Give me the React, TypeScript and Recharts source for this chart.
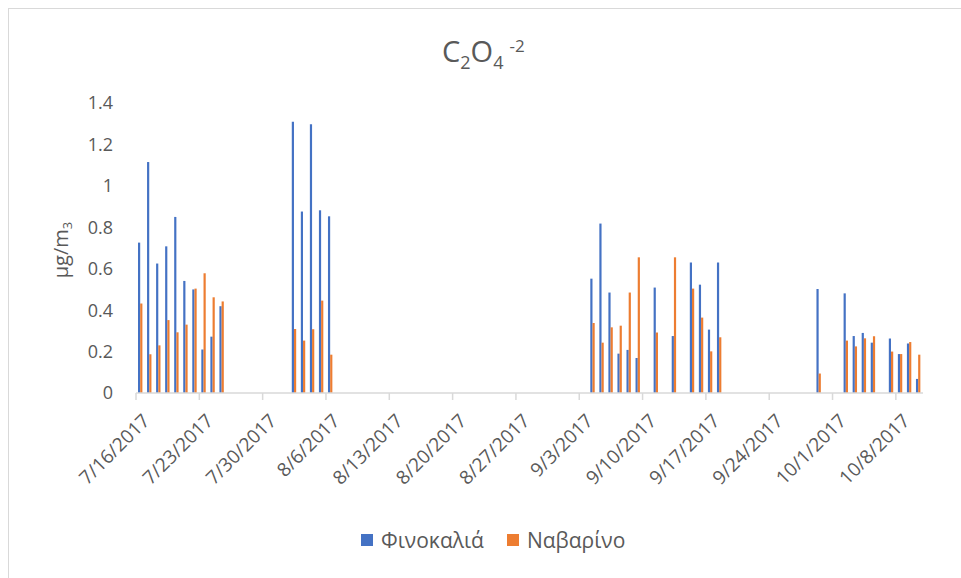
import React from "react";
import { BarChart, Bar, XAxis, YAxis } from "recharts";

// sampling days and daily means (μg/m3) for the two stations
const dates = [
  "7/16/2017", "7/17/2017", "7/18/2017", "7/19/2017", "7/20/2017",
  "7/21/2017", "7/22/2017", "7/23/2017", "7/24/2017", "7/25/2017",
  "8/2/2017", "8/3/2017", "8/4/2017", "8/5/2017", "8/6/2017",
  "9/4/2017", "9/5/2017", "9/6/2017", "9/7/2017", "9/8/2017", "9/9/2017",
  "9/11/2017", "9/13/2017", "9/15/2017", "9/16/2017", "9/17/2017", "9/18/2017",
  "9/29/2017", "10/2/2017", "10/3/2017", "10/4/2017", "10/5/2017",
  "10/7/2017", "10/8/2017", "10/9/2017", "10/10/2017",
];

const finokalia = [
  0.726, 1.115, 0.625, 0.708, 0.85, 0.541, 0.5, 0.21, 0.272, 0.419,
  1.31, 0.876, 1.297, 0.882, 0.853,
  0.552, 0.818, 0.485, 0.19, 0.208, 0.169, 0.509, 0.275, 0.63, 0.523, 0.306, 0.63,
  0.502, 0.481, 0.275, 0.29, 0.243, 0.263, 0.188, 0.239, 0.068,
];

const navarino = [
  0.432, 0.187, 0.23, 0.352, 0.293, 0.33, 0.504, 0.578, 0.462, 0.442,
  0.309, 0.253, 0.308, 0.446, 0.185,
  0.338, 0.243, 0.317, 0.325, 0.485, 0.655, 0.292, 0.655, 0.504, 0.364, 0.201, 0.269,
  0.094, 0.253, 0.225, 0.264, 0.274, 0.2, 0.188, 0.246, 0.185,
];

const weekLabels = [
  "7/16/2017", "7/23/2017", "7/30/2017", "8/6/2017", "8/13/2017", "8/20/2017",
  "8/27/2017", "9/3/2017", "9/10/2017", "9/17/2017", "9/24/2017", "10/1/2017",
  "10/8/2017",
];

const yTicks = [0, 0.2, 0.4, 0.6, 0.8, 1, 1.2, 1.4];

const FONT = "'Open Sans', sans-serif";
const TEXT = "#595959";
const BLUE = "#4472C4";
const ORANGE = "#ED7D31";

const START = Date.UTC(2017, 6, 16);
const dayIndex = (s: string) => {
  const [m, d, y] = s.split("/").map(Number);
  return Math.round((Date.UTC(y, m - 1, d) - START) / 86400000);
};

// each day is one band on a linear axis; bars sit in the middle of their day
const data = dates.map((d, i) => ({
  day: dayIndex(d) + 0.5,
  fin: finokalia[i],
  nav: navarino[i],
}));
const tickDays = weekLabels.map(dayIndex);
const lastDay = dayIndex("10/10/2017") + 1;

const DateTick = (props: any) => {
  const { x, y, payload } = props;
  const label = weekLabels[tickDays.indexOf(payload.value)] ?? "";
  const tx = x + 15;
  const ty = y + 20;
  return (
    <text
      x={tx}
      y={ty}
      transform={`rotate(-45, ${tx}, ${ty})`}
      textAnchor="end"
      fill={TEXT}
      fontSize={19}
      fontFamily={FONT}
    >
      {label}
    </text>
  );
};

const UnitLabel = () => (
  <text
    x={68}
    y={250}
    transform="rotate(-90, 68, 250)"
    textAnchor="middle"
    fill={TEXT}
    fontSize={20}
    fontFamily={FONT}
  >
    μg/m
    <tspan fontSize={13} dy={4}>3</tspan>
  </text>
);

export default function App() {
  return (
    <div
      style={{
        position: "absolute",
        left: 0,
        top: 0,
        width: 961,
        height: 578,
        overflow: "hidden",
        background: "#fff",
        fontFamily: FONT,
      }}
    >
      <div
        style={{
          position: "absolute",
          left: 8,
          top: 8,
          width: 1000,
          height: 1000,
          border: "1px solid #d9d9d9",
        }}
      />
      <div
        style={{
          position: "absolute",
          left: 442,
          top: 36,
          fontSize: 29,
          lineHeight: "29px",
          color: TEXT,
          whiteSpace: "nowrap",
        }}
      >
        C<span style={{ fontSize: 18, position: "relative", top: 7 }}>2</span>O
        <span style={{ fontSize: 18, position: "relative", top: 7 }}>4</span>
        <span style={{ fontSize: 17, position: "relative", top: -10, marginLeft: 6 }}>-2</span>
      </div>

      <BarChart
        width={961}
        height={578}
        data={data}
        margin={{ top: 103, right: 38, bottom: 85, left: 0 }}
        barGap={0}
        style={{ position: "absolute", left: 0, top: 0 }}
      >
        <XAxis
          dataKey="day"
          type="number"
          domain={[0, lastDay]}
          allowDataOverflow
          ticks={tickDays}
          interval={0}
          height={100}
          stroke="#d9d9d9"
          strokeWidth={1.5}
          tickSize={7}
          tickMargin={2}
          tick={<DateTick />}
        />
        <YAxis
          domain={[0, 1.4]}
          ticks={yTicks}
          width={136}
          axisLine={false}
          tickLine={false}
          tickSize={0}
          tickMargin={23}
          tick={{ fill: TEXT, fontSize: 18, fontFamily: FONT }}
          label={<UnitLabel />}
        />
        <Bar dataKey="fin" name="Φινοκαλιά" fill={BLUE} barSize={2.2} isAnimationActive={false} />
        <Bar dataKey="nav" name="Ναβαρίνο" fill={ORANGE} barSize={2.2} isAnimationActive={false} />
      </BarChart>

      <div
        style={{
          position: "absolute",
          left: 361,
          top: 526,
          display: "flex",
          alignItems: "center",
          fontSize: 21,
          color: TEXT,
          whiteSpace: "nowrap",
        }}
      >
        <span style={{ width: 12, height: 12, background: BLUE, marginRight: 8 }} />
        <span>Φινοκαλιά</span>
        <span style={{ width: 12, height: 12, background: ORANGE, marginLeft: 23, marginRight: 8 }} />
        <span>Ναβαρίνο</span>
      </div>
    </div>
  );
}
